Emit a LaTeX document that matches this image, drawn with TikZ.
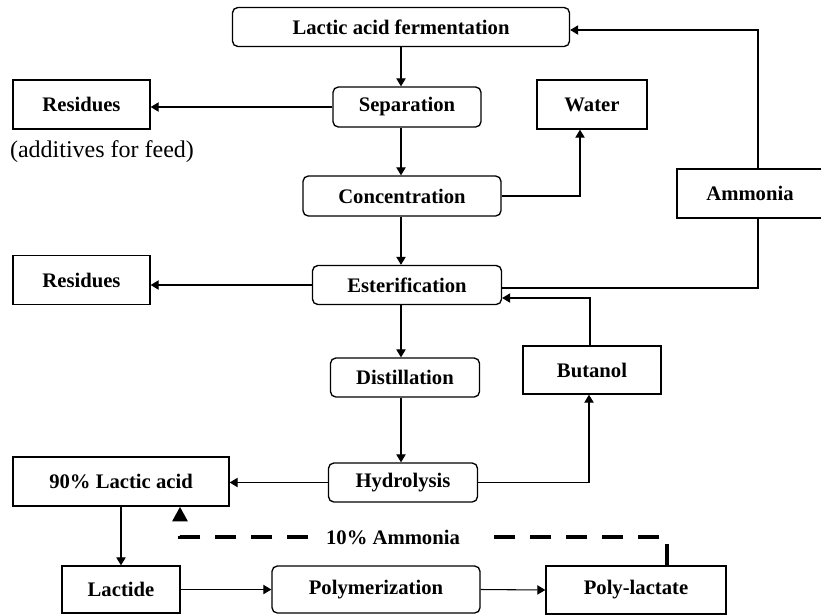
\documentclass[tikz,border=0pt]{standalone}
\usepackage{fontspec}
\setmainfont{Liberation Serif}
\usetikzlibrary{arrows.meta,calc}
\begin{document}
\begin{tikzpicture}[x=0.75pt,y=-0.75pt,
        every node/.style={draw,line width=1pt,inner sep=0pt,font=\fontsize{15.5}{18}\selectfont\bfseries},
        sz/.style 2 args={minimum width=#1*0.75pt,minimum height=#2*0.75pt},
        proc/.style={rounded corners=4pt},
        flow/.style={line width=0.8pt,-{Triangle[length=6pt,width=7pt]}},
        plain/.style={line width=0.8pt},
        recycle/.style={line width=3pt,dash pattern=on 16pt off 11pt,-{Triangle[length=11pt,width=11pt]}}]
            \useasboundingbox (0,0) rectangle (821,615);
            
            \node[proc,sz={337}{39}] (ferm) at (401,27) {Lactic acid fermentation};
            \node[proc,sz={148}{40}] (sep) at (407,107) {Separation};
            \node[proc,sz={198}{40}] (conc) at (402,196) {Concentration};
            \node[proc,sz={189}{39}] (ester) at (407,285) {Esterification};
            \node[proc,sz={149}{39}] (dist) at (405,377.5) {Distillation};
            \node[proc,sz={149}{39}] (hyd) at (403,482.5) {Hydrolysis};
            
            \node[sz={137}{49}] (res1) at (81.5,104.5) {Residues};
            \node[draw=none,font=\fontsize{18}{20}\selectfont] (feed) at (102,152) {(additives for feed)};
            \node[sz={110}{49}] (water) at (592,104.5) {Water};
            \node[sz={146}{49}] (amm) at (750,193.5) {Ammonia};
            \node[sz={137}{49}] (res2) at (81.5,280) {Residues};
            \node[sz={138}{48}] (but) at (592,370) {Butanol};
            
            \node[sz={216}{49}] (lac) at (121,481.5) {90\% Lactic acid};
            \node[sz={118}{47}] (lact) at (121,589.5) {Lactide};
            \node[proc,sz={208}{47}] (poly) at (376,589.5) {Polymerization};
            \node[sz={180}{48}] (plac) at (636,590) {Poly-lactate};
            \node[draw=none] (rec) at (393,537) {10\% Ammonia};
            
            \path [flow] (ferm.south) edge (ferm.south |- sep.north);
            \path [flow] (sep.west) edge (sep.west -| res1.east);
            \path [flow] (sep.south -| ferm.south) edge (conc.north -| ferm.south);
            \draw [flow] (conc.east) -| ($(water.south)+(-12,0)$);
            \path [flow] (conc.south -| ferm.south) edge (ester.north -| ferm.south);
            \path [flow] (ester.west) edge (ester.west -| res2.east);
            \draw [plain] ($(ester.east)+(0,3)$) -| ($(amm.south)+(8,0)$);
            \draw [flow] ($(amm.north)+(8,0)$) |- ($(ferm.east)+(0,3)$);
            \draw [flow] ($(but.north)+(-2,0)$) |- ($(ester.east)+(0,13)$);
            \path [flow] (ester.south -| ferm.south) edge (dist.north -| ferm.south);
            \path [flow] (dist.south -| ferm.south) edge (hyd.north -| ferm.south);
            \draw [flow] (hyd.east) -| ($(but.south)+(-3,0)$);
            \path [flow] (hyd.west) edge (hyd.west -| lac.east);
            \path [flow] (lac.south) edge (lact.north);
            \path [flow] (lact.east) edge (poly.west);
            \path [flow] (poly.east) edge (plac.west);
            
            \draw [recycle,-] ($(plac.north)+(31,0)$) |- ($(rec.east)+(28,0)$);
            \draw [recycle] ($(rec.west)+(-17,0)$) -| ($(lac.south)+(59,0)$);
        \end{tikzpicture}
\end{document}
